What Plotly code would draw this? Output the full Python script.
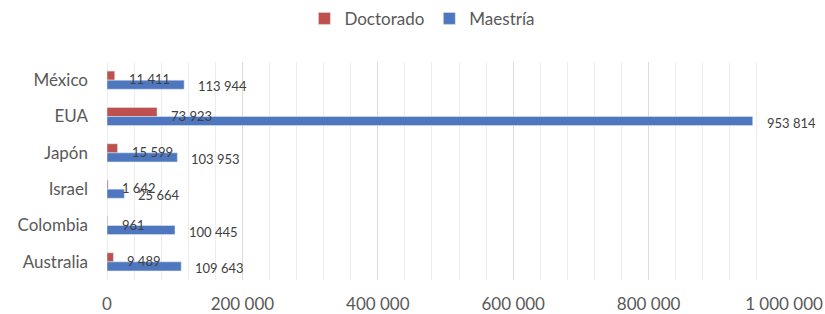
import plotly.graph_objects as go

countries = ["México", "EUA", "Japón", "Israel", "Colombia", "Australia"]
doctorado = [11411, 73923, 15599, 1642, 961, 9489]
maestria = [113944, 953814, 103953, 25664, 100445, 109643]
x_ticks = [0, 200000, 400000, 600000, 800000, 1000000]

RED = "#C0504D"
BLUE = "#4F77C0"
FONT = "Lato"
GREY = "#595959"

def fmt(v):
    return f"{v:,}".replace(",", " ")

fig = go.Figure()
fig.add_trace(go.Bar(y=countries, x=doctorado, orientation="h", name="Doctorado",
                     marker_color=RED))
fig.add_trace(go.Bar(y=countries, x=maestria, orientation="h", name="Maestría",
                     marker_color=BLUE))

annotations = []
for c, v in zip(countries, doctorado):
    annotations.append(dict(x=v, y=c, xref="x", yref="y", text=fmt(v), showarrow=False,
                            xanchor="left", yanchor="middle", xshift=12, yshift=1,
                            font=dict(family=FONT, size=13, color="#404040")))
for c, v in zip(countries, maestria):
    annotations.append(dict(x=v, y=c, xref="x", yref="y", text=fmt(v), showarrow=False,
                            xanchor="left", yanchor="middle", xshift=12, yshift=-6,
                            font=dict(family=FONT, size=13, color="#404040")))

fig.update_layout(
    width=825, height=314,
    margin=dict(l=107, r=41, t=62, b=34, autoexpand=False),
    paper_bgcolor="white", plot_bgcolor="white",
    barmode="group", bargap=0.5, bargroupgap=0,
    separators=". ",
    font=dict(family=FONT, color=GREY),
    showlegend=True,
    legend=dict(orientation="h", x=0.512, xref="container", xanchor="center",
                y=0.94, yref="container", yanchor="middle",
                font=dict(family=FONT, size=17, color=GREY),
                itemwidth=30, traceorder="normal"),
    annotations=annotations,
    xaxis=dict(range=[0, 1000000], tickvals=x_ticks, tickformat=",d",
               showgrid=True, gridcolor="#DCDCDC", gridwidth=1,
               minor=dict(dtick=40000, tick0=0, showgrid=True, gridcolor="#EDEDED", gridwidth=1),
               zeroline=False, showline=False, automargin=False,
               tickfont=dict(family=FONT, size=17, color=GREY),
               ticklabelstandoff=12),
    yaxis=dict(autorange="reversed", showgrid=False, zeroline=False, showline=False,
               automargin=False,
               tickfont=dict(family=FONT, size=17, color=GREY),
               ticklabelstandoff=18),
)
fig.add_shape(type="line", xref="x", yref="paper", x0=0, x1=0, y0=0, y1=1,
              line=dict(color="#DCDCDC", width=1), layer="below")

fig.write_html("out.html", config={"displayModeBar": False},
               post_script="document.body.style.margin='0px';")
